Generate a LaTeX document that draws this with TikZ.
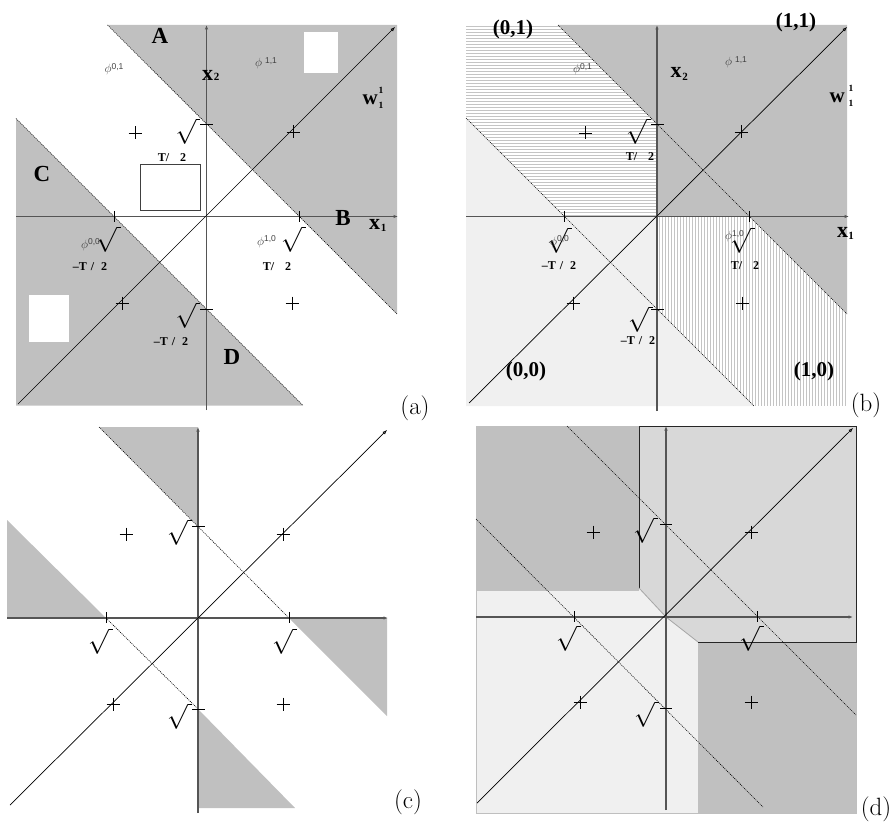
\documentclass[tikz,border=0pt]{standalone}
\usepackage{fontspec}
\newfontfamily\tms{Liberation Serif}
\newfontfamily\hlv{Liberation Sans}
\usetikzlibrary{arrows.meta}
\definecolor{gdark}{HTML}{C0C0C0}
\definecolor{glight}{HTML}{F0F0F0}
\definecolor{gmid}{HTML}{D8D8D8}
\definecolor{axc}{HTML}{555555}
\definecolor{hatc}{HTML}{C4C4C4}
\newcommand\phlab[1]{{\fontsize{12}{12}\selectfont$\phi$}{\hlv\fontsize{8.5}{8.5}\selectfont\raisebox{3.5pt}{#1}}}
\newcommand\radl{$\sqrt{\hspace{4pt}}$}
\tikzset{
 axis/.style={draw=axc, line width=1.1pt, -{Latex[open,length=4.5pt,width=3.5pt]}},
 diag/.style={draw=black, line width=0.7pt, -{Latex[open,length=4.5pt,width=3.5pt]}},
 bnd/.style={draw=black, line width=0.6pt, dash pattern=on 1pt off 1pt},
 tk/.style={draw=black, line width=0.8pt},
 pl/.style={draw=black, line width=0.8pt},
 hatchline/.style={draw=hatc, line width=0.7pt},
 plusm/.pic={\draw[pl] (-6.5,0) -- (6.5,0) (0,-6.5) -- (0,6.5);},
 rad/.style={inner sep=0pt, anchor=north east, font=\fontsize{24}{24}\selectfont},
 bigL/.style={inner sep=0pt, font=\tms\bfseries\fontsize{23}{23}\selectfont},
 crd/.style={inner sep=0pt, font=\tms\bfseries\fontsize{21}{21}\selectfont},
 bx/.style={inner sep=0pt, font=\tms\bfseries\fontsize{22}{22}\selectfont},
 wl/.style={inner sep=0pt, anchor=base west, font=\tms\bfseries\fontsize{21}{21}\selectfont},
 wix/.style={inner sep=0pt, anchor=base west, font=\tms\bfseries\fontsize{9.5}{9.5}\selectfont},
 bsub/.style={inner sep=0pt, font=\tms\bfseries\fontsize{11}{11}\selectfont},
 tlab/.style={inner sep=0pt, font=\tms\bfseries\fontsize{12}{12}\selectfont},
 phl/.style={inner sep=0pt, anchor=base west, text=black!75},
 panel/.style={inner sep=0pt, font=\fontsize{25}{25}\selectfont},
}
\begin{document}
\begin{tikzpicture}[x=1pt,y=-1pt]
\useasboundingbox (0,0) rectangle (895,824);
% ================= panel (a) =================
\fill[gdark] (107.5,25) -- (397,25) -- (397,314) -- cycle;
\fill[gdark] (16,118.5) -- (303,405.5) -- (16,405.5) -- cycle;
\fill[white] (304,32) rectangle (338,73);
\fill[white] (29,295) rectangle (69,342);
\draw[black!75, line width=0.9pt] (140.7,164) rectangle (200,210);
\draw[bnd] (107.5,25) -- (397,314);
\draw[bnd] (16,118.5) -- (303,405.5);
\draw[axis] (16,216.5) -- (398,216.5);
\draw[axis] (206.5,410) -- (206.5,25);
\draw[diag] (18,404) -- (395,27);
\draw[tk] (114,211) -- (114,222) (299,211) -- (299,222) (200,124) -- (213,124) (200,309) -- (213,309);
\pic at (135,133) {plusm};
\pic at (293,132) {plusm};
\pic at (122,303) {plusm};
\pic at (292,303) {plusm};
\node[rad] (ra1) at (200.5,118) {\radl};
\node[rad] (ra2) at (121,226) {\radl};
\node[rad] (ra3) at (306,226) {\radl};
\node[rad] (ra4) at (200.5,302) {\radl};
\node[tlab] (ta1) at (172,158) {T/\hspace{11pt}2};
\node[tlab] (ta2) at (90,267) {–T\hspace{4pt}/\hspace{7pt}2};
\node[tlab] (ta3) at (277,267) {T/\hspace{11pt}2};
\node[tlab] (ta4) at (171,342) {–T\hspace{4pt}/\hspace{7pt}2};
\node[bigL] (lA) at (160,36) {A};
\node[bigL] (lB) at (343,218) {B};
\node[bigL] (lC) at (42,174) {C};
\node[bigL] (lD) at (232,357) {D};
\node[bx] (xa2) at (207.5,75) {x};
\node[bsub] (xa2s) at (216.5,77) {2};
\node[bx] (xa1) at (374.5,224) {x};
\node[bsub] (xa1s) at (383.5,227.5) {1};
\node[wl] (wa) at (362.5,105) {w};
\node[wix] (wa1) at (378.5,93.5) {1};
\node[wix] (wa2) at (378.5,109) {1};
\node[phl] (pa01) at (104.5,73) {\phlab{0,1}};
\node[phl] (pa11) at (255,67) {\phlab{\hspace{3pt}1,1}};
\node[phl] (pa00) at (81,248) {\phlab{0,0}};
\node[phl] (pa10) at (257,245) {\phlab{1,0}};
\node[panel] (capa) at (415,408) {(a)};
% ================= panel (b) =================
\fill[glight] (466,118) -- (564.5,216.5) -- (657,216.5) -- (657,309) -- (754,406) -- (466,406) -- cycle;
\fill[gdark] (558,25) -- (847,25) -- (847,314) -- (749.5,216.5) -- (657,216.5) -- (657,124) -- cycle;
\begin{scope}
\clip (466,118) -- (466,25) -- (558,25) -- (657,124) -- (657,216.5) -- (564.5,216.5) -- cycle;
\foreach \k in {26,29,...,216} \draw[hatchline] (466,\k) -- (657,\k);
\end{scope}
\begin{scope}
\clip (657,216.5) -- (749.5,216.5) -- (847,314) -- (847,406) -- (754,406) -- (657,309) -- cycle;
\foreach \k in {659,662,...,847} \draw[hatchline] (\k,216.5) -- (\k,406);
\end{scope}
\draw[bnd] (558,25) -- (847,314);
\draw[bnd] (466,118) -- (754,406);
\draw[axis] (466,216.5) -- (849,216.5);
\draw[axis] (657,411) -- (657,25);
\draw[diag] (469,403) -- (847,27);
\draw[tk] (564.5,211) -- (564.5,222) (749.5,211) -- (749.5,222) (651,124) -- (664,124) (651,309) -- (664,309);
\pic at (585,133) {plusm};
\pic at (741,132) {plusm};
\pic at (573,303) {plusm};
\pic at (742,303) {plusm};
\node[rad] (rb1) at (651,118) {\radl};
\node[rad] (rb2) at (572,227) {\radl};
\node[rad] (rb3) at (755,227) {\radl};
\node[rad] (rb4) at (653,306) {\radl};
\node[tlab] (tb1) at (640,157) {T/\hspace{11pt}2};
\node[tlab] (tb2) at (559,266) {–T\hspace{4pt}/\hspace{7pt}2};
\node[tlab] (tb3) at (745,266) {T/\hspace{11pt}2};
\node[tlab] (tb4) at (638,341) {–T\hspace{4pt}/\hspace{7pt}2};
\node[crd] (c01) at (513,29) {(0,1)};
\node[crd] (c11) at (796,22) {(1,1)};
\node[crd] (c00) at (526,371) {(0,0)};
\node[crd] (c10) at (814,371) {(1,0)};
\node[bx] (xb2) at (676,72) {x};
\node[bsub] (xb2s) at (685,76.5) {2};
\node[bx] (xb1) at (842.5,232.5) {x};
\node[bsub] (xb1s) at (851,236) {1};
\node[wl] (wb) at (829.5,103) {w};
\node[wix] (wb1) at (848.5,91.5) {1};
\node[wix] (wb2) at (848.5,107) {1};
\node[phl] (pb01) at (573,73) {\phlab{0,1}};
\node[phl] (pb11) at (725,66) {\phlab{\hspace{3pt}1,1}};
\node[phl] (pb00) at (550,245) {\phlab{0,0}};
\node[phl] (pb10) at (725,240) {\phlab{1,0}};
\node[panel] (capb) at (866,405) {(b)};
% ================= panel (c) =================
\fill[gdark] (99,427) -- (198,427) -- (198,526) -- cycle;
\fill[gdark] (7,520) -- (7,618) -- (106,618) -- cycle;
\fill[gdark] (289,618) -- (387,618) -- (387,716) -- cycle;
\fill[gdark] (198,709) -- (198,808) -- (295,808) -- cycle;
\draw[bnd] (99,427) -- (289,618);
\draw[bnd] (106,618) -- (198,709);
\draw[axis] (7,618) -- (388,618);
\draw[axis] (198,813) -- (198,427);
\draw[diag] (10,805) -- (387,430);
\draw[tk] (106,612) -- (106,623) (289,612) -- (289,623) (192,526) -- (205,526) (192,709) -- (205,709);
\pic at (126,534) {plusm};
\pic at (283,534) {plusm};
\pic at (113,704) {plusm};
\pic at (283,704) {plusm};
\node[rad] (rc1) at (192,519) {\radl};
\node[rad] (rc2) at (113,628) {\radl};
\node[rad] (rc3) at (297,628) {\radl};
\node[rad] (rc4) at (192,703) {\radl};
\node[panel] (capc) at (408,802) {(c)};
% ================= panel (d) =================
\fill[glight, draw=black!25, line width=0.6pt] (476,426) rectangle (856,813);
\fill[gdark] (476,426) rectangle (639,591);
\fill[gdark] (698,642) rectangle (856,813);
\fill[gmid] (639,426) -- (856,426) -- (856,642) -- (698,642) -- (666,617) -- (639,588) -- cycle;
\draw[black!85, line width=0.8pt] (639,588) -- (639,426) -- (856,426) -- (856,642) -- (698,642);
\draw[black!35, line width=0.8pt] (698,642) -- (666,617) -- (639,588);
\draw[bnd] (567,426) -- (856,715);
\draw[bnd] (476,519) -- (763,807);
\draw[axis] (476,617) -- (853,617);
\draw[axis] (666,810) -- (666,426);
\draw[diag] (477,803) -- (853,428);
\draw[tk] (574,611) -- (574,622) (757,611) -- (757,622) (660,524) -- (672,524) (660,708) -- (672,708);
\pic at (593,532) {plusm};
\pic at (751,532) {plusm};
\pic at (580,702) {plusm};
\pic at (751,702) {plusm};
\node[rad] (rd1) at (658,517) {\radl};
\node[rad] (rd2) at (581,625) {\radl};
\node[rad] (rd3) at (764,625) {\radl};
\node[rad] (rd4) at (659,701) {\radl};
\node[panel] (capd) at (876,809) {(d)};
\end{tikzpicture}
\end{document}
